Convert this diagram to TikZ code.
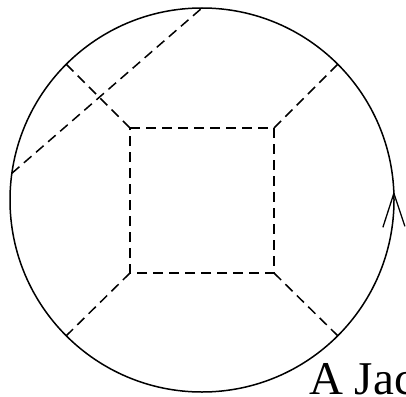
\documentclass[tikz,border=0pt]{standalone}
\usepackage{fontspec}
\setmainfont{Liberation Serif}
\begin{document}
\begin{tikzpicture}[x=1pt,y=-1pt,
  dash line/.style={line width=1.5pt, dash pattern=on 10pt off 6pt, line cap=butt},
  rim/.style={circle, draw, line width=1.5pt, minimum size=384pt, inner sep=0pt, outer sep=0pt},
  barb/.style={line width=1.3pt}]
\useasboundingbox (0,0) rectangle (406,396);
\node[rim] (circ) at (202,200) {};
\coordinate (tl) at (130,128);
\coordinate (tr) at (274,128);
\coordinate (br) at (274,273);
\coordinate (bl) at (130,273);
\draw[dash line] (tl) -- (tr) -- (br) -- (bl) -- cycle;
\draw[dash line] (tl) -- (circ.135);
\draw[dash line] (tr) -- (circ.45);
\draw[dash line] (bl) -- (circ.225);
\draw[dash line] (br) -- (circ.-45);
\draw[dash line] (circ.172.5) -- (circ.90);
\coordinate (apex) at (circ.2.1);
\draw[barb] (apex) -- ++(-11,34);
\draw[barb] (apex) -- ++(11,33);
\node[anchor=base west, inner sep=0pt, font=\fontsize{47}{47}\selectfont] (lbl) at (309,394) {A Jac};
\end{tikzpicture}
\end{document}
